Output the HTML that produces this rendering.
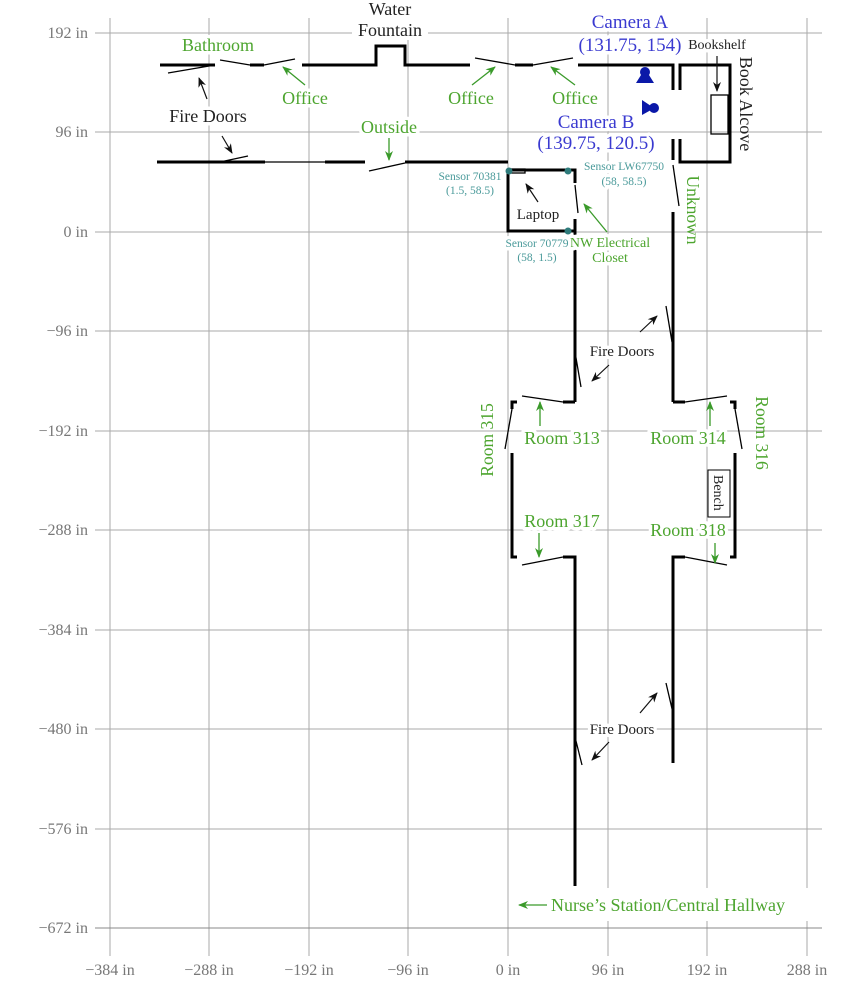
<!DOCTYPE html>
<html><head><meta charset="utf-8"><style>
html,body{margin:0;padding:0;background:#fff}
svg{display:block}
text{font-family:"Liberation Serif",serif}
.g{fill:#4da52f}
.b{fill:#3a3ad0}
.t{fill:#4a9a9a;font-size:11.5px}
.k{fill:#222}
.h{paint-order:stroke;stroke:#fff;stroke-width:7px;stroke-linejoin:round}
</style></head><body>
<svg width="864" height="998" viewBox="0 0 864 998" xmlns="http://www.w3.org/2000/svg">
<defs>
<marker id="ak" markerWidth="10" markerHeight="8" refX="9" refY="4" orient="auto" markerUnits="userSpaceOnUse"><path d="M0,0 L10,4 L0,8 L3,4z" fill="#111"/></marker>
<marker id="ag" markerWidth="10" markerHeight="8" refX="9" refY="4" orient="auto" markerUnits="userSpaceOnUse"><path d="M0,0 L10,4 L0,8 L3,4z" fill="#3a9a2a"/></marker>
</defs>
<g stroke="#aaa" stroke-width="1">
<line x1="110" y1="18" x2="110" y2="956"/><line x1="209" y1="18" x2="209" y2="956"/>
<line x1="309" y1="18" x2="309" y2="956"/><line x1="408" y1="18" x2="408" y2="956"/>
<line x1="508" y1="18" x2="508" y2="956"/><line x1="608" y1="18" x2="608" y2="956"/>
<line x1="707" y1="18" x2="707" y2="956"/><line x1="807" y1="18" x2="807" y2="956"/>
<line x1="95" y1="33" x2="822" y2="33"/><line x1="95" y1="132" x2="822" y2="132"/>
<line x1="95" y1="232" x2="822" y2="232"/><line x1="95" y1="331" x2="822" y2="331"/>
<line x1="95" y1="431" x2="822" y2="431"/><line x1="95" y1="530" x2="822" y2="530"/>
<line x1="95" y1="630" x2="822" y2="630"/><line x1="95" y1="729" x2="822" y2="729"/>
<line x1="95" y1="829" x2="822" y2="829"/><line x1="95" y1="928" x2="822" y2="928" stroke="#888"/>
</g>
<rect x="510" y="888" width="298" height="33" fill="#fff"/>
<rect x="352" y="0" width="76" height="40" fill="#fff"/>
<g fill="#777" font-size="16" text-anchor="end">
<text x="88" y="38">192 in</text><text x="88" y="137">96 in</text><text x="88" y="237">0 in</text>
<text x="88" y="336">−96 in</text><text x="88" y="436">−192 in</text><text x="88" y="535">−288 in</text>
<text x="88" y="635">−384 in</text><text x="88" y="734">−480 in</text><text x="88" y="834">−576 in</text>
<text x="88" y="933">−672 in</text>
</g>
<g fill="#777" font-size="16" text-anchor="middle">
<text x="110" y="975">−384 in</text><text x="209" y="975">−288 in</text><text x="309" y="975">−192 in</text>
<text x="408" y="975">−96 in</text><text x="508" y="975">0 in</text><text x="608" y="975">96 in</text>
<text x="707" y="975">192 in</text><text x="807" y="975">288 in</text>
</g>
<g stroke="#000" stroke-width="3" fill="none" stroke-linecap="butt">
<line x1="160" y1="65" x2="215" y2="65"/>
<line x1="250" y1="65" x2="264" y2="65"/>
<polyline points="302,65 376,65 376,46 405,46 405,65 470,65"/>
<line x1="515" y1="65" x2="533" y2="65"/>
<polyline points="578,65 673,65 673,90"/>
<polyline points="680,90 680,65 730,65 730,162 680,162 680,139"/>
<line x1="157" y1="162" x2="265" y2="162"/>
<line x1="325" y1="162" x2="365" y2="162"/>
<line x1="405" y1="162" x2="508" y2="162"/>
<polyline points="575,183 575,170 508,170 508,231 575,231"/>
<line x1="575" y1="219" x2="575" y2="402"/>
<line x1="575" y1="402" x2="563" y2="402"/>
<polyline points="673,139 673,160"/>
<line x1="673" y1="212" x2="673" y2="402"/>
<line x1="673" y1="402" x2="685" y2="402"/>
<polyline points="517,402 512,402 512,409"/>
<polyline points="512,453 512,557 517,557"/>
<polyline points="730,402 735,402 735,409"/>
<polyline points="735,453 735,557 730,557"/>
<polyline points="563,557 575,557 575,886"/>
<polyline points="685,557 673,557 673,763"/>
</g>
<g stroke="#000" stroke-width="1.3" fill="none">
<line x1="168" y1="73" x2="215" y2="65"/>
<line x1="220" y1="60" x2="250" y2="65"/>
<line x1="264" y1="65" x2="295" y2="59"/>
<line x1="475" y1="58" x2="515" y2="65"/>
<line x1="533" y1="65" x2="573" y2="58"/>
<line x1="220" y1="162" x2="248" y2="156"/>
<line x1="265" y1="162" x2="325" y2="162"/>
<line x1="369" y1="171" x2="405" y2="163"/>
<line x1="575" y1="185" x2="578" y2="213"/>
<line x1="673" y1="165" x2="679" y2="206"/>
<line x1="666" y1="306" x2="672" y2="342"/>
<line x1="575" y1="352" x2="581" y2="387"/>
<line x1="522" y1="396" x2="563" y2="402"/>
<line x1="685" y1="402" x2="727" y2="396"/>
<line x1="512" y1="409" x2="505" y2="449"/>
<line x1="735" y1="409" x2="742" y2="449"/>
<line x1="522" y1="565" x2="563" y2="557"/>
<line x1="685" y1="557" x2="727" y2="565"/>
<line x1="666" y1="683" x2="673" y2="713"/>
<line x1="575" y1="737" x2="582" y2="765"/>
<rect x="711" y="95" width="17" height="39"/>
<rect x="511" y="169" width="14" height="4"/>
</g>
<g fill="#2e7b7b"><circle cx="509" cy="171" r="3.5"/><circle cx="568" cy="171" r="3.5"/><circle cx="568" cy="231" r="3.5"/></g>
<g fill="#0a18a8">
<circle cx="645" cy="72" r="5"/><path d="M641,75 L649,75 L654,83 L636,83z"/>
<circle cx="654" cy="108" r="5"/><path d="M642,100 L651,106 L651,110 L642,115z"/>
</g>
<g stroke="#111" stroke-width="1.2">
<line x1="207" y1="99" x2="199" y2="78" marker-end="url(#ak)"/>
<line x1="222" y1="136" x2="232" y2="153" marker-end="url(#ak)"/>
<line x1="717" y1="56" x2="717" y2="91" marker-end="url(#ak)"/>
<line x1="538" y1="202" x2="526" y2="184" marker-end="url(#ak)"/>
<line x1="640" y1="332" x2="657" y2="316" marker-end="url(#ak)"/>
<line x1="609" y1="365" x2="592" y2="381" marker-end="url(#ak)"/>
<line x1="640" y1="713" x2="657" y2="693" marker-end="url(#ak)"/>
<line x1="609" y1="742" x2="592" y2="760" marker-end="url(#ak)"/>
</g>
<g stroke="#3a9a2a" stroke-width="1.3">
<line x1="305" y1="85" x2="283" y2="67" marker-end="url(#ag)"/>
<line x1="472" y1="85" x2="495" y2="67" marker-end="url(#ag)"/>
<line x1="575" y1="85" x2="551" y2="67" marker-end="url(#ag)"/>
<line x1="389" y1="138" x2="389" y2="160" marker-end="url(#ag)"/>
<line x1="607" y1="232" x2="584" y2="204" marker-end="url(#ag)"/>
<line x1="540" y1="426" x2="540" y2="402" marker-end="url(#ag)"/>
<line x1="710" y1="426" x2="710" y2="402" marker-end="url(#ag)"/>
<line x1="539" y1="533" x2="539" y2="557" marker-end="url(#ag)"/>
<line x1="715" y1="543" x2="715" y2="563" marker-end="url(#ag)"/>
<line x1="547" y1="905" x2="519" y2="905" marker-end="url(#ag)"/>
</g>
<g font-size="18" text-anchor="middle">
<text class="g h" x="218" y="51">Bathroom</text>
<text class="k h" x="208" y="122">Fire Doors</text>
<text class="g h" x="305" y="104">Office</text>
<text class="g h" x="471" y="104">Office</text>
<text class="g h" x="575" y="104">Office</text>
<text class="k h" x="390" y="15">Water</text>
<text class="k h" x="390" y="36">Fountain</text>
<text class="g h" x="389" y="133">Outside</text>
<text class="b h" x="630" y="28" font-size="19">Camera A</text>
<text class="b h" x="630" y="51" font-size="19">(131.75, 154)</text>
<text class="b h" x="596" y="128" font-size="19">Camera B</text>
<text class="b h" x="596" y="149" font-size="19">(139.75, 120.5)</text>
<text class="k h" x="717" y="49" font-size="14">Bookshelf</text>
<text class="k" transform="translate(740,104) rotate(90)" font-size="18" text-anchor="middle">Book Alcove</text>
<text class="g" transform="translate(687,210) rotate(90)" font-size="17.5" text-anchor="middle">Unknown</text>
<text class="k h" x="538" y="219" font-size="15">Laptop</text>
<text class="g h" x="610" y="247" font-size="14">NW Electrical</text>
<text class="g h" x="610" y="262" font-size="14">Closet</text>
<text class="k h" x="622" y="356" font-size="15">Fire Doors</text>
<text class="k h" x="622" y="734" font-size="15">Fire Doors</text>
<text class="g" transform="translate(493,440) rotate(-90)" font-size="17.5" text-anchor="middle">Room 315</text>
<text class="g" transform="translate(756,433) rotate(90)" font-size="17.5" text-anchor="middle">Room 316</text>
<text class="g h" x="562" y="444">Room 313</text>
<text class="g h" x="688" y="444">Room 314</text>
<text class="g h" x="562" y="527">Room 317</text>
<text class="g h" x="688" y="536">Room 318</text>
</g>
<g text-anchor="middle">
<text class="t h" x="470" y="180">Sensor 70381</text>
<text class="t h" x="470" y="194">(1.5, 58.5)</text>
<text class="t h" x="624" y="170">Sensor LW67750</text>
<text class="t h" x="624" y="185">(58, 58.5)</text>
<text class="t h" x="537" y="247">Sensor 70779</text>
<text class="t h" x="537" y="261">(58, 1.5)</text>
</g>
<rect x="708" y="470" width="22" height="47" fill="#fff" stroke="#000" stroke-width="1"/>
<text transform="translate(714,475) rotate(90)" font-size="14" class="k">Bench</text>
<text class="g" x="551" y="911" font-size="18">Nurse’s Station/Central Hallway</text>
</svg>
</body></html>
